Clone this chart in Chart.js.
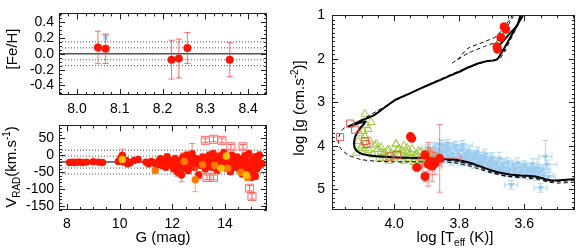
<!DOCTYPE html>
<html>
<head>
<meta charset="utf-8">
<script src="https://cdn.jsdelivr.net/npm/chart.js@4.4.1/dist/chart.umd.min.js"></script>
<style>
body { margin: 0; background: #fff; }
#wrap { position: relative; width: 581px; height: 251px; }
canvas { position: absolute; }
</style>
</head>
<body>
<div id="wrap">
<canvas id="feh" width="275" height="118" style="left:0px;top:0px"></canvas>
<canvas id="rv" width="275" height="139" style="left:0px;top:112px"></canvas>
<canvas id="hrd" width="296" height="251" style="left:285px;top:0px"></canvas>
</div>
<script>
// ---- top left: [Fe/H] vs log age
var fehRangeX = [7.958, 8.444];
var fehRangeY = [-0.52, 0.51];
var fehTicksX = [8.0, 8.1, 8.2, 8.3, 8.4];
var fehTicksY = [-0.4, -0.2, 0.0, 0.2, 0.4];
var fehAge = [8.049, 8.067, 8.221, 8.238, 8.258, 8.357];
var fehValue = [0.08, 0.063, -0.074, -0.059, 0.074, -0.074];
var fehErr = [0.205, 0.185, 0.245, 0.245, 0.195, 0.215];
var fehBlue = [[8.067, 0.21, 0.035]];
var fehLevels = [0.075, -0.075, 0.15, -0.15];

// ---- bottom left: radial velocity vs G
var rvRangeX = [7.7, 15.59];
var rvRangeY = [-161, 88];
var rvTicksX = [8, 10, 12, 14];
var rvTicksY = [-150, -100, -50, 0, 50];
var rvMean = -20;
var rvLevels = [15, -2.5, -37.5, -55];
// [G, Vrad, err]
var rvRed = [
  [8.1,-21,3],[8.2,-20,3],[8.3,-21,3],[8.4,-20,3],[8.5,-20,3],[8.6,-21,3],[8.75,-20,3],
  [9.0,-19,3],[9.2,-20,3],[9.35,-21,3],
  [9.95,-18,4],[10.05,-8,6],[10.1,0,18],[10.15,-20,5],[10.25,-15,5],[10.3,-25,4],[10.4,-22,4],[10.55,-15,5],[10.7,-12,4],
  [11.0,-20,5],[11.1,-25,6],[11.2,-18,6],[11.3,-22,5],[11.4,-28,5],[11.5,-15,6],[11.55,-10,7],[11.6,-30,6],
  [11.7,-20,8],[11.75,-35,8],[11.8,-5,10],[11.85,-25,6],[11.9,-15,8],[11.95,-28,6],[12.0,-20,7],[12.05,-40,8],
  [12.1,-10,10],[12.15,-25,7],[12.2,-50,12],[12.25,-15,8],[12.3,-30,6],[12.35,-58,20],[12.4,-5,12],[12.45,-38,6],
  [12.5,-22,8],[12.55,0,10],[12.6,-45,8],[12.65,-12,8],[12.7,-30,8],[12.75,5,30],[12.8,-20,8],[12.85,-35,8],
  [12.9,-10,10],[12.95,-25,6],[13.0,-58,10],[13.05,-15,8],[13.1,-30,8],[13.15,-5,8],[13.2,-22,8],[13.25,-40,6],
  [13.3,-10,8],[13.35,-28,6],[13.4,0,10],[13.45,-18,8],[13.5,-35,6],[13.55,5,10],[13.6,-25,8],[13.65,-12,8],
  [13.7,-45,8],[13.75,-20,8],[13.8,-2,8],[13.85,-30,8],[13.9,-15,6],[13.95,8,10],[14.0,-25,8],[14.05,-38,8],
  [14.1,-10,8],[14.15,-20,8],[14.2,-48,8],[14.25,0,8],[14.3,-28,8],[14.35,-15,8],[14.4,-35,8],[14.45,-5,8],
  [14.5,-22,8],[14.55,-42,8],[14.6,-12,10],[14.65,-55,8],[14.7,-30,8],[14.75,-2,10],[14.8,-20,8],[14.85,-45,8],
  [14.9,5,10],[14.95,-35,10],[15.0,-15,10],[15.05,-55,10],[15.1,-25,10],[15.15,-5,10],[15.2,-40,10],
  [15.25,-18,10],[15.3,0,10],[15.3,-30,10],[14.9,-58,8],[15.0,-65,8],[15.15,-62,8],[15.4,-24,4]
];
var rvOrange = [[11.35,-45,4],[12.87,-72,35],[13.6,-30,8],[14.1,-38,8],[14.85,-65,8],[12.45,-18,6],[14.6,-50,8],[13.15,-28,6]];
var rvYellow = [[10.1,-12,4],[14.05,-2,6],[13.85,-38,6],[14.8,-58,6]];
var rvSquares = [[13.25,44,7],[13.56,47,7],[13.88,44,7],[14.22,25,7],[14.68,25,7],[13.31,-65,7],[13.56,-65,7],[14.93,-97,8],[15.02,-121,8]];

// ---- right: log g vs log Teff
var hrdRangeX = [3.444, 4.191];
var hrdRangeY = [1, 5.48];
var hrdTicksX = [3.6, 3.8, 4.0];
var hrdTicksY = [1, 2, 3, 4, 5];
// [logTeff, logg, errT, errg]
var hrdRed = [
  [3.662,1.26,0,0],[3.657,1.32,0,0],[3.672,1.51,0,0],[3.684,1.72,0,0],[3.682,1.78,0,0],
  [3.95,3.79,0,0],[3.946,3.83,0,0],
  [3.905,4.21,0.01,0.08],[3.93,4.5,0.015,0.08],[3.905,4.71,0.01,0.12],[3.895,4.43,0.02,0.5],
  [3.883,4.47,0.03,0.35],[3.875,4.41,0.02,0.25],[3.86,4.29,0.065,0.78],[3.89,4.36,0.02,0.3]
];
var hrdSquares = [[4.135,3.49],[4.166,3.8],[4.12,3.63],[4.09,3.89],[4.085,3.96],[4.014,4.25],[3.99,4.21]];
var hrdGreen = [
  [4.09,3.27],[4.07,3.46],[4.085,3.53],[4.095,3.67],[4.09,3.78],[4.075,3.89],[4.06,4.0],[4.04,4.14],[4.02,4.1],
  [3.994,3.96],[3.99,4.1],[3.97,4.0],[4.116,4.17],[4.11,3.9],[4.1,4.05],[4.08,4.1],[4.065,4.2],[4.05,4.08],
  [4.035,4.22],[4.025,4.3],[4.01,4.18],[4.0,4.28],[3.985,4.2],[3.98,4.32],[3.975,4.12],[3.965,4.25],[3.955,4.3],
  [3.95,4.18],[3.945,4.08],[3.94,4.26],[3.935,4.33],[3.93,4.2],[3.925,4.12],[3.92,4.28],[3.915,4.35],[3.91,4.22],
  [3.905,4.3],[3.9,4.15],[3.895,4.28],[3.885,4.2],[3.88,4.32],[3.96,4.05],[4.045,4.3],[4.015,4.35],[3.97,4.35],
  [3.94,4.38],[4.105,3.72],[4.08,3.62],[3.87,4.25],
  [4.1,4.0],[4.09,4.07],[4.055,3.96],[4.04,4.04],[3.995,3.96],[3.985,4.07],[4.015,4.1],[4.065,4.21],[4.035,4.29],
  [3.975,4.25],[3.955,4.21],[3.935,4.25],[3.92,4.14],[3.915,4.32],[3.895,4.18],[4.03,4.16],[3.96,4.15],[4.0,4.2]
];
var hrdBlue = [
  [3.9,4.25,0.02,0.1],[3.895,4.05,0.02,0.08],[3.89,4.12,0.02,0.08],[3.88,4.2,0.02,0.1],[3.875,4.05,0.03,0.12],
  [3.87,4.28,0.02,0.08],[3.865,4.15,0.02,0.1],[3.86,4.1,0.03,0.15],[3.855,4.22,0.02,0.1],[3.85,4.0,0.02,0.12],
  [3.845,4.3,0.03,0.1],[3.84,4.15,0.02,0.08],[3.835,4.25,0.02,0.1],[3.83,4.08,0.03,0.1],[3.825,4.35,0.02,0.1],
  [3.82,4.18,0.02,0.12],[3.815,4.02,0.03,0.1],[3.81,4.28,0.02,0.1],[3.805,4.12,0.02,0.1],[3.8,4.22,0.03,0.12],
  [3.795,4.38,0.02,0.08],[3.79,4.08,0.02,0.1],[3.785,4.3,0.03,0.1],[3.78,4.18,0.02,0.1],[3.775,4.25,0.02,0.12],
  [3.77,4.12,0.03,0.1],[3.765,4.35,0.02,0.1],[3.76,4.2,0.02,0.08],[3.755,4.42,0.03,0.1],[3.75,4.28,0.02,0.1],
  [3.745,4.15,0.02,0.12],[3.74,4.38,0.03,0.1],[3.735,4.25,0.02,0.1],[3.73,4.45,0.02,0.1],[3.725,4.32,0.03,0.1],
  [3.72,4.2,0.02,0.12],[3.715,4.4,0.02,0.1],[3.71,4.5,0.03,0.1],[3.705,4.35,0.02,0.1],[3.7,4.28,0.02,0.12],
  [3.695,4.45,0.03,0.1],[3.69,4.55,0.02,0.08],[3.685,4.38,0.02,0.1],[3.68,4.48,0.03,0.1],[3.675,4.3,0.02,0.15],
  [3.67,4.55,0.02,0.1],[3.665,4.42,0.03,0.1],[3.66,4.6,0.02,0.1],[3.655,4.5,0.02,0.12],[3.65,4.38,0.03,0.1],
  [3.645,4.55,0.02,0.1],[3.64,4.9,0.02,0.1],[3.635,4.45,0.02,0.12],[3.63,4.62,0.03,0.1],[3.625,4.52,0.02,0.1],
  [3.62,4.4,0.02,0.12],[3.615,4.65,0.03,0.1],[3.61,4.5,0.02,0.1],[3.605,4.58,0.02,0.15],[3.6,4.45,0.03,0.1],
  [3.595,4.62,0.02,0.1],[3.59,4.52,0.02,0.12],[3.585,4.68,0.03,0.1],[3.58,4.55,0.02,0.1],[3.575,4.42,0.02,0.12],
  [3.57,4.6,0.03,0.1],[3.565,4.7,0.02,0.1],[3.56,4.5,0.02,0.2],[3.555,4.62,0.03,0.1],[3.55,4.97,0.02,0.1],
  [3.545,4.55,0.02,0.12],[3.54,4.68,0.03,0.1],[3.535,4.25,0.02,0.37],[3.53,4.43,0.03,0.1],[3.525,4.72,0.02,0.1],
  [3.87,4.18,0.03,0.12],[3.86,4.3,0.03,0.1],[3.85,4.15,0.03,0.1],[3.84,4.05,0.03,0.12],[3.83,4.22,0.03,0.1],
  [3.82,4.3,0.03,0.1],[3.81,4.0,0.03,0.1],[3.8,4.12,0.03,0.1],[3.79,4.25,0.03,0.12],[3.78,4.35,0.03,0.1],
  [3.77,4.22,0.03,0.1],[3.76,4.3,0.03,0.12],[3.75,4.2,0.03,0.1],[3.74,4.3,0.03,0.1],[3.73,4.38,0.03,0.1],
  [3.72,4.28,0.03,0.12],[3.71,4.42,0.03,0.1],[3.7,4.5,0.03,0.1],[3.69,4.4,0.03,0.12],[3.68,4.55,0.03,0.1],
  [3.665,4.5,0.03,0.1],[3.65,4.6,0.03,0.1],[3.63,4.55,0.03,0.1],[3.61,4.6,0.03,0.1],[3.59,4.6,0.03,0.1],
  [3.57,4.52,0.03,0.1],[3.55,4.55,0.03,0.12],[3.835,3.95,0.02,0.1],[3.79,3.98,0.03,0.1],[3.86,3.97,0.02,0.12]
];
var isoMain = [
  [3.445,4.77],[3.48,4.79],[3.51,4.8],[3.535,4.77],[3.565,4.71],[3.6,4.69],[3.64,4.67],[3.67,4.63],[3.7,4.57],
  [3.73,4.49],[3.76,4.41],[3.79,4.35],[3.82,4.32],[3.86,4.3],[3.9,4.29],[3.95,4.28],[4.0,4.27],[4.04,4.25],
  [4.08,4.22],[4.105,4.17],[4.12,4.07],[4.123,3.92],[4.118,3.76],[4.105,3.6],[4.088,3.44],[4.14,3.56],
  [4.11,3.45],[4.06,3.29],[4.0,2.96],[3.95,2.79],[3.9,2.62],[3.85,2.46],[3.8,2.3],[3.773,2.2],[3.74,2.1],
  [3.712,2.05],[3.685,2.02],[3.665,1.8],[3.641,1.48],[3.62,1.2],[3.601,0.97]
];
var isoInner = [[3.684,1.74],[3.672,1.65],[3.645,1.42],[3.621,1.22],[3.611,0.97]];
var isoClump = [[3.686,1.8],[3.657,1.8]];
var isoYoung = [
  [3.445,4.84],[3.5,4.86],[3.53,4.83],[3.56,4.77],[3.6,4.74],[3.65,4.71],[3.7,4.63],[3.75,4.51],[3.8,4.41],
  [3.85,4.37],[3.9,4.37],[3.95,4.37],[4.0,4.37],[4.05,4.36],[4.1,4.32],[4.14,4.22],[4.165,4.06],[4.172,3.88],
  [4.166,3.72],[4.155,3.6],[4.13,3.52],[4.08,3.32],[4.0,2.98],[3.9,2.61],[3.85,2.44],[3.8,2.28],[3.75,2.14],
  [3.7,2.03],[3.675,1.99],[3.66,1.83],[3.645,1.6],[3.63,1.38],[3.615,1.15],[3.608,0.97]
];
var isoOld = [[3.445,4.8],[3.49,4.82],[3.52,4.83],[3.55,4.77],[3.6,4.72],[3.65,4.7],[3.7,4.61],[3.75,4.47],[3.8,4.37],[3.85,4.33],[3.9,4.32]];
var isoUpperA = [[3.822,2.1],[3.773,1.87],[3.72,1.71],[3.685,1.6],[3.66,1.35],[3.64,1.1],[3.63,0.97]];
var isoUpperB = [[3.805,2.02],[3.773,1.76],[3.72,1.6],[3.685,1.48],[3.665,1.3],[3.645,1.1],[3.635,0.97]];

var FONT = 'Liberation Sans, Arial, sans-serif';

var extras = {
  feh: { minorX: 0.02, minorY: 0.05, titles: [
    { x: 12, y: 49, rot: -Math.PI / 2, parts: [['[Fe/H]', '']] }
  ] },
  rv: { minorX: 0.5, minorY: 10, titles: [
    { x: 11, y: 55, rot: -Math.PI / 2, parts: [['V', ''], ['RAD', 'sub'], ['(km.s', ''], ['-1', 'sup'], [')', '']] },
    { x: 163, y: 125, rot: 0, parts: [['G (mag)', '']] }
  ] },
  hrd: { minorX: 0.05, minorY: 0.1, titles: [
    { x: 14, y: 108, rot: -Math.PI / 2, parts: [['log [g (cm.s', ''], ['-2', 'sup'], [')]', '']] },
    { x: 170, y: 237, rot: 0, parts: [['log [T', ''], ['eff', 'sub'], [' (K)]', '']] }
  ] }
};

function drawRich(ctx, t) {
  ctx.save();
  ctx.translate(t.x, t.y);
  ctx.rotate(t.rot);
  ctx.fillStyle = '#000';
  ctx.textBaseline = 'alphabetic';
  var total = 0;
  var widths = t.parts.map(function (p) {
    ctx.font = (p[1] ? 10 : 15) + 'px ' + FONT;
    var w = ctx.measureText(p[0]).width;
    total += w;
    return w;
  });
  var x = -total / 2;
  t.parts.forEach(function (p, i) {
    ctx.font = (p[1] ? 10 : 15) + 'px ' + FONT;
    var dy = p[1] === 'sub' ? 4 : (p[1] === 'sup' ? -6 : 0);
    ctx.fillText(p[0], x, 5 + dy);
    x += widths[i];
  });
  ctx.restore();
}

function seg(ctx, x1, y1, x2, y2) {
  ctx.moveTo(x1, y1);
  ctx.lineTo(x2, y2);
}

var boxPlugin = {
  id: 'box',
  beforeDatasetDraw: function (chart, args) {
    var ds = chart.data.datasets[args.index];
    if (!ds.errY && !ds.errX) return;
    var ctx = chart.ctx, xs = chart.scales.x, ys = chart.scales.y, a = chart.chartArea;
    var c = ds.cap || 3;
    ctx.save();
    ctx.beginPath();
    ctx.rect(a.left, a.top, a.width, a.height);
    ctx.clip();
    ctx.strokeStyle = ds.errColor;
    ctx.lineWidth = 1;
    ctx.beginPath();
    ds.data.forEach(function (p, i) {
      var px = xs.getPixelForValue(p.x), py = ys.getPixelForValue(p.y);
      if (ds.errY && ds.errY[i]) {
        var y1 = ys.getPixelForValue(p.y + ds.errY[i]), y2 = ys.getPixelForValue(p.y - ds.errY[i]);
        seg(ctx, px, y1, px, y2);
        seg(ctx, px - c, y1, px + c, y1);
        seg(ctx, px - c, y2, px + c, y2);
      }
      if (ds.errX && ds.errX[i]) {
        var x1 = xs.getPixelForValue(p.x + ds.errX[i]), x2 = xs.getPixelForValue(p.x - ds.errX[i]);
        seg(ctx, x1, py, x2, py);
        seg(ctx, x1, py - c, x1, py + c);
        seg(ctx, x2, py - c, x2, py + c);
      }
    });
    ctx.stroke();
    ctx.restore();
  },
  afterDraw: function (chart) {
    var e = extras[chart.canvas.id];
    var ctx = chart.ctx, a = chart.chartArea, xs = chart.scales.x, ys = chart.scales.y;
    ctx.save();
    ctx.strokeStyle = '#222';
    ctx.lineWidth = 1;
    ctx.strokeRect(Math.round(a.left) + 0.5, Math.round(a.top) + 0.5, Math.round(a.width) - 1, Math.round(a.height) - 1);
    ctx.beginPath();
    function ticksOn(scale, step, len) {
      var v = Math.ceil(scale.min / step - 1e-6) * step;
      for (; v <= scale.max + 1e-9; v += step) {
        var p = Math.round(scale.getPixelForValue(v)) + 0.5;
        if (scale.isHorizontal()) {
          seg(ctx, p, a.bottom, p, a.bottom - len);
          seg(ctx, p, a.top, p, a.top + len);
        } else {
          seg(ctx, a.left, p, a.left + len, p);
          seg(ctx, a.right, p, a.right - len, p);
        }
      }
    }
    ticksOn(xs, e.minorX, 3);
    ticksOn(ys, e.minorY, 3);
    xs.ticks.forEach(function (t) {
      var p = Math.round(xs.getPixelForValue(t.value)) + 0.5;
      seg(ctx, p, a.bottom, p, a.bottom - 6);
      seg(ctx, p, a.top, p, a.top + 6);
    });
    ys.ticks.forEach(function (t) {
      var p = Math.round(ys.getPixelForValue(t.value)) + 0.5;
      seg(ctx, a.left, p, a.left + 6, p);
      seg(ctx, a.right, p, a.right - 6, p);
    });
    ctx.stroke();
    ctx.restore();
    e.titles.forEach(function (t) { drawRich(ctx, t); });
  }
};

function axis(range, ticks, digits, size, reverse, pad) {
  return {
    type: 'linear',
    min: range[0],
    max: range[1],
    reverse: !!reverse,
    grid: { display: false, drawTicks: false },
    border: { display: false },
    afterBuildTicks: function (s) { s.ticks = ticks.map(function (v) { return { value: v }; }); },
    afterFit: function (s) { if (s.isHorizontal()) s.height = size; else s.width = size; },
    ticks: {
      color: '#000',
      font: { family: FONT, size: 14 },
      padding: pad || 5,
      autoSkip: false,
      maxRotation: 0,
      callback: function (v) { return Number(v).toFixed(digits); }
    }
  };
}

function xy(arr) { return arr.map(function (p) { return { x: p[0], y: p[1] }; }); }
function column(arr, i) { return arr.map(function (p) { return p[i]; }); }

function hline(level, xr, color, width, dash) {
  return {
    data: [{ x: xr[0], y: level }, { x: xr[1], y: level }],
    showLine: true, pointRadius: 0, borderColor: color, borderWidth: width, borderDash: dash || []
  };
}

function curve(arr, width, dash) {
  return { data: xy(arr), showLine: true, pointRadius: 0, borderColor: '#000', borderWidth: width, borderDash: dash || [], tension: 0.2 };
}

function baseOptions(padding, scales) {
  return {
    responsive: false,
    animation: false,
    events: [],
    layout: { padding: padding },
    plugins: { legend: { display: false }, tooltip: { enabled: false } },
    scales: scales
  };
}

// top left
var fehSets = [
  { data: fehAge.map(function (t, i) { return { x: t, y: fehValue[i] }; }), errY: fehErr, errColor: 'rgba(255,60,60,0.75)', cap: 3,
    pointRadius: 4, pointBackgroundColor: '#ff1500', pointBorderWidth: 0 },
  { data: xy(fehBlue), errY: column(fehBlue, 2), errColor: '#a9d3f0', cap: 3,
    pointStyle: 'triangle', rotation: 180, pointRadius: 4, pointBackgroundColor: '#a9d3f0', pointBorderWidth: 0 },
  hline(0, fehRangeX, '#555', 1.5)
];
fehLevels.forEach(function (l) { fehSets.push(hline(l, fehRangeX, '#555', 1, [1, 2])); });
new Chart(document.getElementById('feh'), {
  type: 'scatter',
  data: { datasets: fehSets },
  options: baseOptions({ top: 3, right: 8, left: 0, bottom: 0 }, {
    x: axis(fehRangeX, fehTicksX, 1, 23, false, 6),
    y: axis(fehRangeY, fehTicksY, 1, 59)
  }),
  plugins: [boxPlugin]
});

// bottom left
function rvSet(arr, color, radius) {
  return { data: xy(arr), errY: column(arr, 2), errColor: color, cap: 3,
    pointRadius: radius, pointBackgroundColor: color, pointBorderWidth: 0 };
}
var sq = rvSet(rvSquares, '#ff5a5a', 5.7);
sq.pointStyle = 'rect';
sq.pointBackgroundColor = 'rgba(0,0,0,0)';
sq.pointBorderColor = '#ff6a6a';
sq.pointBorderWidth = 1;
var yel = rvSet(rvYellow, '#ffc000', 3.7);
yel.errColor = 'rgba(255,190,0,0.7)';
var ora = rvSet(rvOrange, '#ff7a00', 3.7);
ora.errColor = 'rgba(255,140,60,0.75)';
var red = rvSet(rvRed, '#ff1500', 3.7);
red.errColor = 'rgba(255,70,70,0.7)';
var rvSets = [sq, yel, ora, red, hline(rvMean, rvRangeX, '#777', 2)];
rvLevels.forEach(function (l) { rvSets.push(hline(l, rvRangeX, '#555', 1, [1, 2])); });
new Chart(document.getElementById('rv'), {
  type: 'scatter',
  data: { datasets: rvSets },
  options: baseOptions({ top: 6, right: 8, left: 0, bottom: 0 }, {
    x: axis(rvRangeX, rvTicksX, 0, 41, false, 6),
    y: axis(rvRangeY, rvTicksY, 0, 59)
  }),
  plugins: [boxPlugin]
});

// right
var hrdSets = [
  { data: xy(hrdRed), errX: column(hrdRed, 2), errY: column(hrdRed, 3), errColor: 'rgba(255,90,90,0.7)', cap: 3,
    pointRadius: 4.5, pointBackgroundColor: '#ff1500', pointBorderWidth: 0 },
  { data: xy(hrdSquares), pointStyle: 'rect', pointRadius: 5, pointBackgroundColor: 'rgba(0,0,0,0)',
    pointBorderColor: '#f05252', pointBorderWidth: 1 },
  curve(isoMain, 2),
  curve(isoInner, 2),
  curve(isoClump, 2),
  curve(isoYoung, 1, [4, 3]),
  curve(isoOld, 1, [4, 3]),
  curve(isoUpperA, 1, [4, 3]),
  curve(isoUpperB, 1, [4, 3]),
  { data: xy(hrdGreen), pointStyle: 'triangle', pointRadius: 4.5, pointBackgroundColor: 'rgba(0,0,0,0)',
    pointBorderColor: '#9cc83c', pointBorderWidth: 1 },
  { data: xy(hrdBlue), errX: column(hrdBlue, 2), errY: column(hrdBlue, 3), errColor: '#b3d9f3', cap: 3,
    pointStyle: 'triangle', rotation: 180, pointRadius: 3.5, pointBackgroundColor: '#9ccbee', pointBorderWidth: 0 }
];
new Chart(document.getElementById('hrd'), {
  type: 'scatter',
  data: { datasets: hrdSets },
  options: baseOptions({ top: 3, right: 3, left: 0, bottom: 0 }, {
    x: axis(hrdRangeX, hrdTicksX, 1, 41, true, 6),
    y: axis(hrdRangeY, hrdTicksY, 0, 47, true, 7)
  }),
  plugins: [boxPlugin]
});
</script>
</body>
</html>
